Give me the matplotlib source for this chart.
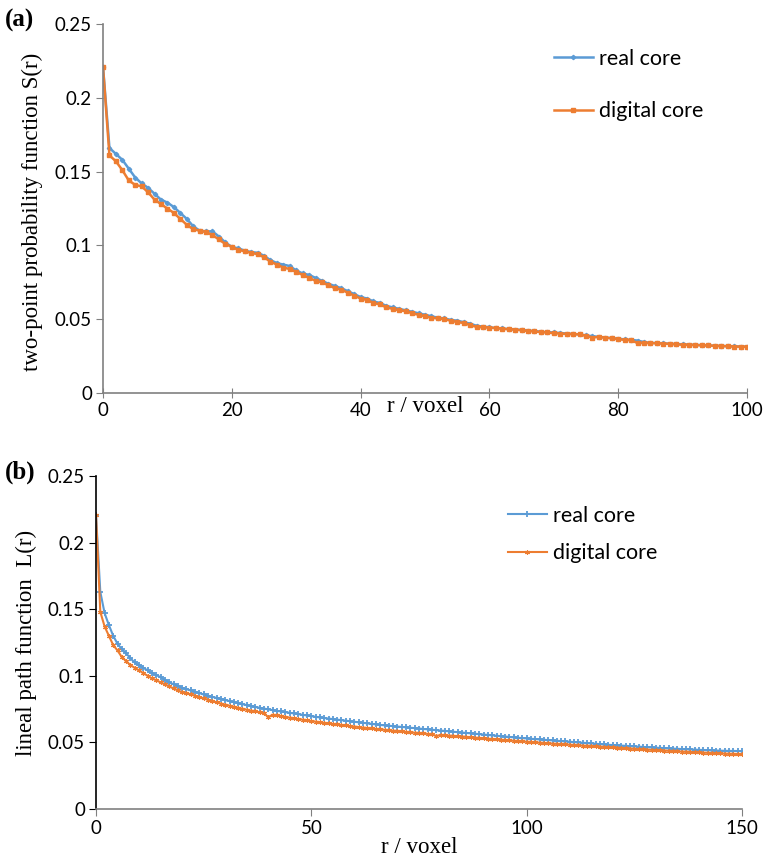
import numpy as np
import matplotlib
matplotlib.use("Agg")
import matplotlib.pyplot as plt

BLUE = "#5B9BD5"
ORANGE = "#ED7D31"

# ---- panel (a): two-point probability function ----
r_a = list(range(0, 101))
s_real = [
    0.221, 0.166, 0.162, 0.158, 0.152, 0.146, 0.142, 0.139, 0.135, 0.131,
    0.129, 0.126, 0.122, 0.118, 0.113, 0.110, 0.1095, 0.1095, 0.106, 0.102,
    0.099, 0.098, 0.0965, 0.0955, 0.095, 0.093, 0.090, 0.088, 0.087, 0.086,
    0.083, 0.081, 0.080, 0.078, 0.076, 0.074, 0.0725, 0.071, 0.069, 0.067,
    0.065, 0.064, 0.062, 0.061, 0.059, 0.058, 0.057, 0.056, 0.055, 0.054,
    0.053, 0.052, 0.051, 0.0505, 0.0495, 0.049, 0.048, 0.047, 0.0455, 0.045,
    0.0445, 0.044, 0.0437, 0.0433, 0.043, 0.0427, 0.0423, 0.042, 0.0415, 0.0412,
    0.041, 0.0406, 0.0403, 0.040, 0.0397, 0.039, 0.0385, 0.038, 0.0376, 0.0372,
    0.0368, 0.0363, 0.036, 0.0355, 0.0345, 0.034, 0.0338, 0.0336, 0.0334, 0.0332,
    0.033, 0.0328, 0.0326, 0.0324, 0.0322, 0.032, 0.0319, 0.0317, 0.0316, 0.0315,
    0.0314,
]
s_digital = [
    0.221, 0.161, 0.157, 0.151, 0.144, 0.141, 0.140, 0.136, 0.131, 0.128,
    0.125, 0.122, 0.118, 0.114, 0.111, 0.110, 0.109, 0.107, 0.104, 0.101,
    0.099, 0.097, 0.096, 0.095, 0.094, 0.092, 0.089, 0.087, 0.085, 0.084,
    0.082, 0.080, 0.078, 0.076, 0.075, 0.073, 0.071, 0.070, 0.068, 0.066,
    0.064, 0.063, 0.061, 0.060, 0.058, 0.057, 0.056, 0.0555, 0.054, 0.053,
    0.052, 0.051, 0.0505, 0.050, 0.049, 0.048, 0.0475, 0.046, 0.0448, 0.0445,
    0.0443, 0.044, 0.0435, 0.0432, 0.043, 0.0425, 0.042, 0.0417, 0.0413, 0.041,
    0.0405, 0.0403, 0.040, 0.0399, 0.0397, 0.0388, 0.0376, 0.038, 0.0375, 0.037,
    0.0365, 0.036, 0.0358, 0.0338, 0.034, 0.0338, 0.0337, 0.0335, 0.0333, 0.033,
    0.0327, 0.0326, 0.0325, 0.0323, 0.0322, 0.032, 0.0318, 0.0317, 0.0315, 0.0314,
    0.0313,
]

# ---- panel (b): lineal path function ----
r_b = list(range(0, 151))
l_real = [
    0.221, 0.163, 0.147, 0.138, 0.130, 0.124, 0.120, 0.117, 0.113, 0.110,
    0.108, 0.106, 0.104, 0.102, 0.1005, 0.099, 0.097, 0.095, 0.0937, 0.0925,
    0.091, 0.090, 0.089, 0.088, 0.087, 0.086, 0.085, 0.0842, 0.0834, 0.0826,
    0.0818, 0.081, 0.0802, 0.0794, 0.0787, 0.078, 0.0773, 0.0766, 0.076, 0.0754,
    0.0748, 0.0742, 0.0737, 0.0732, 0.0727, 0.0722, 0.0717, 0.0712, 0.0707, 0.0702,
    0.0697, 0.0692, 0.0687, 0.0683, 0.0679, 0.0675, 0.0671, 0.0667, 0.0663, 0.0659,
    0.0655, 0.0651, 0.0647, 0.0643, 0.0639, 0.0635, 0.0631, 0.0628, 0.0625, 0.0622,
    0.0619, 0.0616, 0.0613, 0.061, 0.0607, 0.0604, 0.0601, 0.0598, 0.0595, 0.0592,
    0.0589, 0.0586, 0.0583, 0.058, 0.0577, 0.0574, 0.0571, 0.0568, 0.0565, 0.0562,
    0.0559, 0.0556, 0.0553, 0.055, 0.0547, 0.0544, 0.0541, 0.0538, 0.0535, 0.0532,
    0.053, 0.0527, 0.0525, 0.0522, 0.052, 0.0517, 0.0515, 0.0512, 0.051, 0.0507,
    0.0505, 0.0502, 0.05, 0.0497, 0.0495, 0.0492, 0.049, 0.0487, 0.0485, 0.0482,
    0.048, 0.0478, 0.0476, 0.0474, 0.0472, 0.047, 0.0468, 0.0466, 0.0464, 0.0462,
    0.046, 0.0459, 0.0457, 0.0455, 0.0453, 0.0452, 0.045, 0.0449, 0.0447, 0.0446,
    0.0444, 0.0443, 0.0441, 0.044, 0.0439, 0.0438, 0.0437, 0.0436, 0.0436, 0.0435,
    0.0435,
]
l_digital = [
    0.221, 0.148, 0.137, 0.130, 0.123, 0.119, 0.114, 0.111, 0.108, 0.106,
    0.104, 0.102, 0.100, 0.098, 0.0967, 0.095, 0.0935, 0.092, 0.0905, 0.089,
    0.0875, 0.087, 0.086, 0.085, 0.084, 0.083, 0.082, 0.081, 0.080, 0.0792,
    0.0784, 0.0776, 0.0768, 0.076, 0.0753, 0.0746, 0.0739, 0.0732, 0.0725, 0.0718,
    0.069, 0.0708, 0.0703, 0.0698, 0.0692, 0.0686, 0.0681, 0.0676, 0.0671, 0.0666,
    0.0661, 0.0656, 0.0651, 0.0647, 0.0643, 0.0639, 0.0635, 0.0631, 0.0627, 0.0623,
    0.0619, 0.0615, 0.0611, 0.0608, 0.0605, 0.0601, 0.0598, 0.0595, 0.0591, 0.0588,
    0.0585, 0.0582, 0.0579, 0.0576, 0.0573, 0.057, 0.0567, 0.0564, 0.0561, 0.0548,
    0.0556, 0.0554, 0.0551, 0.0549, 0.0546, 0.0544, 0.0541, 0.0538, 0.0535, 0.0533,
    0.053, 0.0527, 0.0525, 0.0522, 0.052, 0.0517, 0.0515, 0.0512, 0.051, 0.0507,
    0.0505, 0.0503, 0.05, 0.0498, 0.0496, 0.0493, 0.0491, 0.0489, 0.0487, 0.0485,
    0.0483, 0.048, 0.0478, 0.0476, 0.0474, 0.0472, 0.047, 0.0468, 0.0466, 0.0464,
    0.0462, 0.046, 0.0458, 0.0456, 0.0454, 0.0452, 0.045, 0.0448, 0.0446, 0.0444,
    0.0442, 0.0441, 0.0439, 0.0437, 0.0435, 0.0433, 0.0431, 0.043, 0.0428, 0.0426,
    0.0425, 0.0423, 0.0422, 0.042, 0.0419, 0.0418, 0.0416, 0.0415, 0.0414, 0.0413,
    0.0412,
]

TICK_FONT = "Lato"
SERIF = "Liberation Serif"

fig = plt.figure(figsize=(7.63, 8.61), dpi=100)
W, H = 763, 861

def px_axes(l, t, r, b):
    return fig.add_axes([l / W, 1 - b / H, (r - l) / W, (b - t) / H])

def style(ax, xspine_col, yspine_col):
    for s in ["top", "right"]:
        ax.spines[s].set_visible(False)
    ax.spines["bottom"].set_color(xspine_col)
    ax.spines["left"].set_color(yspine_col)
    ax.spines["bottom"].set_linewidth(1.2)
    ax.spines["left"].set_linewidth(1.2)
    ax.set_ylim(0, 0.25)
    ax.set_yticks([0, 0.05, 0.1, 0.15, 0.2, 0.25])
    ax.set_yticklabels(["0", "0.05", "0.1", "0.15", "0.2", "0.25"])
    for lab in ax.get_xticklabels() + ax.get_yticklabels():
        lab.set_fontfamily(TICK_FONT)
        lab.set_fontsize(13.5)
    ax.tick_params(axis="y", direction="out", length=5, color=yspine_col, pad=3)

# panel (a)
ax1 = px_axes(103, 24, 747, 393)
ax1.plot(r_a, s_real, color=BLUE, lw=1.8, marker="D", ms=2.2, label="real core")
ax1.plot(r_a, s_digital, color=ORANGE, lw=1.8, marker="s", ms=3.4, label="digital core")
ax1.set_xlim(0, 100)
ax1.set_xticks([0, 20, 40, 60, 80, 100])
style(ax1, "#808080", "#808080")
ax1.tick_params(axis="x", direction="inout", length=7, color="#808080", pad=3)
ax1.set_ylabel("two-point probability function S(r)", family=SERIF, fontsize=16.5)
ax1.set_xlabel("r / voxel", family=SERIF, fontsize=16.5)
ax1.yaxis.set_label_coords(-0.093, 0.49)
ax1.xaxis.set_label_coords(0.5, -0.008)
ax1.legend(loc="upper left", bbox_to_anchor=(554 / W, 1 - 49 / H),
           bbox_transform=fig.transFigure, frameon=False,
           prop={"family": TICK_FONT, "size": 15.5}, handlelength=1.8,
           handletextpad=0.3, labelspacing=1.5, borderpad=0, borderaxespad=0)
fig.text(5 / W, 1 - 20 / H, "(a)", family=SERIF, weight="bold", fontsize=18, va="center")

# panel (b)
ax2 = px_axes(96, 476, 742, 809)
ax2.plot(r_b, l_real, color=BLUE, lw=1.5, marker="+", ms=4, mew=1.3, label="real core")
ax2.plot(r_b, l_digital, color=ORANGE, lw=1.5, marker=(6, 2, 0), ms=3.5, mew=0.8, label="digital core")
ax2.set_xlim(0, 150)
ax2.set_xticks([0, 50, 100, 150])
style(ax2, "#808080", "black")
ax2.tick_params(axis="x", direction="out", length=5, color="#808080", pad=3)
ax2.set_ylabel("lineal path function  L(r)", family=SERIF, fontsize=16.5)
ax2.set_xlabel("r / voxel", family=SERIF, fontsize=16.5)
ax2.yaxis.set_label_coords(-0.091, 0.5)
ax2.xaxis.set_label_coords(0.5, -0.085)
ax2.legend(loc="upper left", bbox_to_anchor=(508 / W, 1 - 506 / H),
           bbox_transform=fig.transFigure, frameon=False,
           prop={"family": TICK_FONT, "size": 15.5}, handlelength=1.8,
           handletextpad=0.3, labelspacing=0.8, borderpad=0, borderaxespad=0)
fig.text(5 / W, 1 - 472 / H, "(b)", family=SERIF, weight="bold", fontsize=18, va="center")

fig.savefig("out.png", dpi=100)
